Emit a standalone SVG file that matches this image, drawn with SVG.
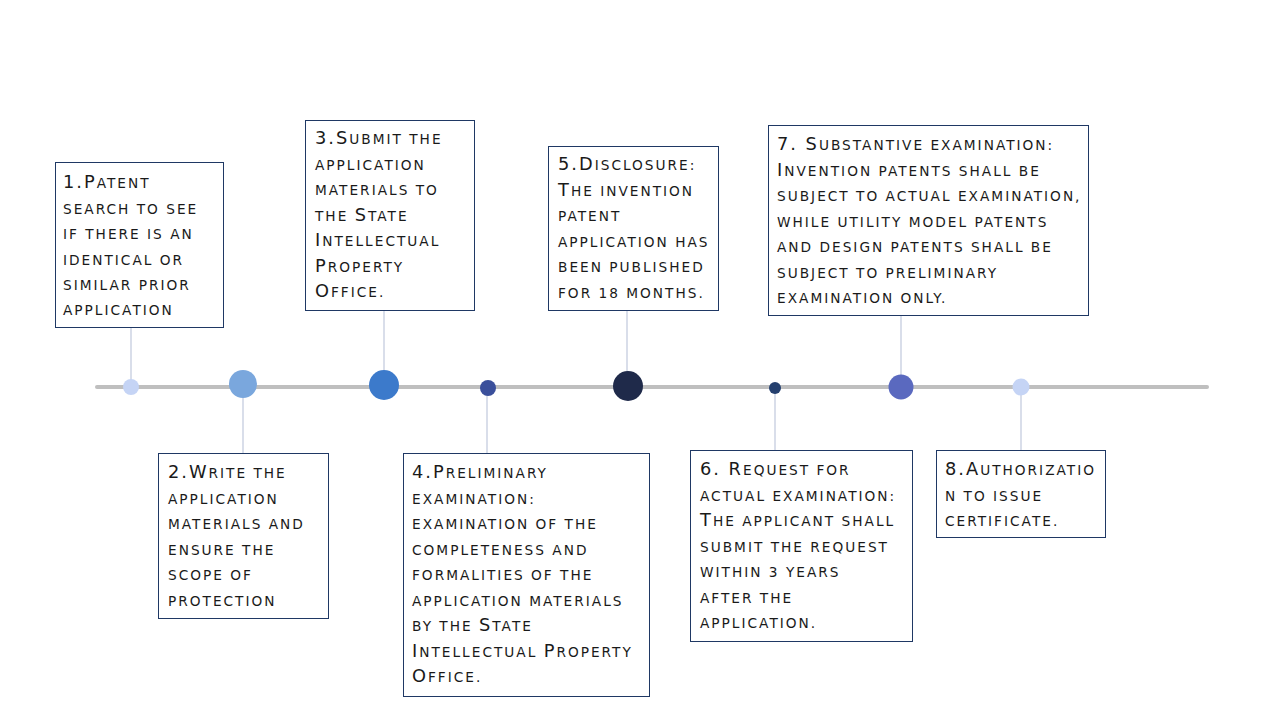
<svg xmlns="http://www.w3.org/2000/svg" width="1280" height="720" viewBox="0 0 1280 720">
<style>
.box{fill:#fff;stroke:#1f3864;stroke-width:1}
.t{font-family:"DejaVu Sans",sans-serif;font-size:13.7px;text-transform:uppercase;letter-spacing:2px;fill:#1a1a1a}
.C{font-size:17.8px}
.c{stroke:#cdd3e3;stroke-width:1.5}
</style>
<rect width="1280" height="720" fill="#fff"/>
<line x1="97" y1="387" x2="1207" y2="387" stroke="#bfbfbf" stroke-width="4" stroke-linecap="round"/>
<g id="connectors">
<line class="c" x1="131" y1="327" x2="131" y2="380"/>
<line class="c" x1="243" y1="396" x2="243" y2="453"/>
<line class="c" x1="384" y1="310" x2="384" y2="371"/>
<line class="c" x1="487" y1="395" x2="487" y2="453"/>
<line class="c" x1="627" y1="310" x2="627" y2="372"/>
<line class="c" x1="775" y1="393" x2="775" y2="450"/>
<line class="c" x1="901" y1="316" x2="901" y2="376"/>
<line class="c" x1="1021" y1="394" x2="1021" y2="450"/>
</g>
<g id="dots">
<circle cx="131" cy="387" r="8" fill="#c5d4f5"/>
<circle cx="243" cy="384" r="14" fill="#7aa7dd"/>
<circle cx="384" cy="385" r="15" fill="#3c7acb"/>
<circle cx="488" cy="388" r="8" fill="#3a4f9b"/>
<circle cx="628" cy="386" r="15" fill="#1f2a4a"/>
<circle cx="775" cy="388" r="6" fill="#243f6e"/>
<circle cx="901" cy="387" r="12.5" fill="#5a69bf"/>
<circle cx="1021" cy="387" r="8.5" fill="#c5d4f5"/>
</g>
<g id="n1">
<rect class="box" x="55.5" y="162.5" width="168" height="165"/>
<text class="t" x="63" y="188"><tspan class="C">1.P</tspan>atent</text>
<text class="t" x="63" y="214">search to see</text>
<text class="t" x="63" y="239">if there is an</text>
<text class="t" x="63" y="265">identical or</text>
<text class="t" x="63" y="290">similar prior</text>
<text class="t" x="63" y="315">application</text>
</g>
<g id="n2">
<rect class="box" x="158.5" y="453.5" width="170" height="165"/>
<text class="t" x="168" y="478"><tspan class="C">2.W</tspan>rite the</text>
<text class="t" x="168" y="504">application</text>
<text class="t" x="168" y="529">materials and</text>
<text class="t" x="168" y="555">ensure the</text>
<text class="t" x="168" y="580">scope of</text>
<text class="t" x="168" y="606">protection</text>
</g>
<g id="n3">
<rect class="box" x="305.5" y="120.5" width="169" height="190"/>
<text class="t" x="315" y="144"><tspan class="C">3.S</tspan>ubmit the</text>
<text class="t" x="315" y="170">application</text>
<text class="t" x="315" y="195">materials to</text>
<text class="t" x="315" y="221">the <tspan class="C">S</tspan>tate</text>
<text class="t" x="315" y="246"><tspan class="C">I</tspan>ntellectual</text>
<text class="t" x="315" y="272"><tspan class="C">P</tspan>roperty</text>
<text class="t" x="315" y="297"><tspan class="C">O</tspan>ffice.</text>
</g>
<g id="n4">
<rect class="box" x="403.5" y="453.5" width="246" height="243"/>
<text class="t" x="412" y="478"><tspan class="C">4.P</tspan>reliminary</text>
<text class="t" x="412" y="504">examination:</text>
<text class="t" x="412" y="529">examination of the</text>
<text class="t" x="412" y="555">completeness and</text>
<text class="t" x="412" y="580">formalities of the</text>
<text class="t" x="412" y="606">application materials</text>
<text class="t" x="412" y="631">by the <tspan class="C">S</tspan>tate</text>
<text class="t" x="412" y="657"><tspan class="C">I</tspan>ntellectual <tspan class="C">P</tspan>roperty</text>
<text class="t" x="412" y="682"><tspan class="C">O</tspan>ffice.</text>
</g>
<g id="n5">
<rect class="box" x="548.5" y="146.5" width="170" height="164"/>
<text class="t" x="558" y="170"><tspan class="C">5.D</tspan>isclosure:</text>
<text class="t" x="558" y="196"><tspan class="C">T</tspan>he invention</text>
<text class="t" x="558" y="221">patent</text>
<text class="t" x="558" y="247">application has</text>
<text class="t" x="558" y="272">been published</text>
<text class="t" x="558" y="298">for 18 months.</text>
</g>
<g id="n6">
<rect class="box" x="690.5" y="450.5" width="222" height="191"/>
<text class="t" x="700" y="475"><tspan class="C">6. R</tspan>equest for</text>
<text class="t" x="700" y="501">actual examination:</text>
<text class="t" x="700" y="526"><tspan class="C">T</tspan>he applicant shall</text>
<text class="t" x="700" y="552">submit the request</text>
<text class="t" x="700" y="577">within 3 years</text>
<text class="t" x="700" y="603">after the</text>
<text class="t" x="700" y="628">application.</text>
</g>
<g id="n7">
<rect class="box" x="768.5" y="125.5" width="320" height="190"/>
<text class="t" x="777" y="150"><tspan class="C">7. S</tspan>ubstantive examination:</text>
<text class="t" x="777" y="176"><tspan class="C">I</tspan>nvention patents shall be</text>
<text class="t" x="777" y="201">subject to actual examination,</text>
<text class="t" x="777" y="227">while utility model patents</text>
<text class="t" x="777" y="252">and design patents shall be</text>
<text class="t" x="777" y="278">subject to preliminary</text>
<text class="t" x="777" y="303">examination only.</text>
</g>
<g id="n8">
<rect class="box" x="936.5" y="450.5" width="169" height="87"/>
<text class="t" x="945" y="475"><tspan class="C">8.A</tspan>uthorizatio</text>
<text class="t" x="945" y="501">n to issue</text>
<text class="t" x="945" y="526">certificate.</text>
</g>
</svg>
